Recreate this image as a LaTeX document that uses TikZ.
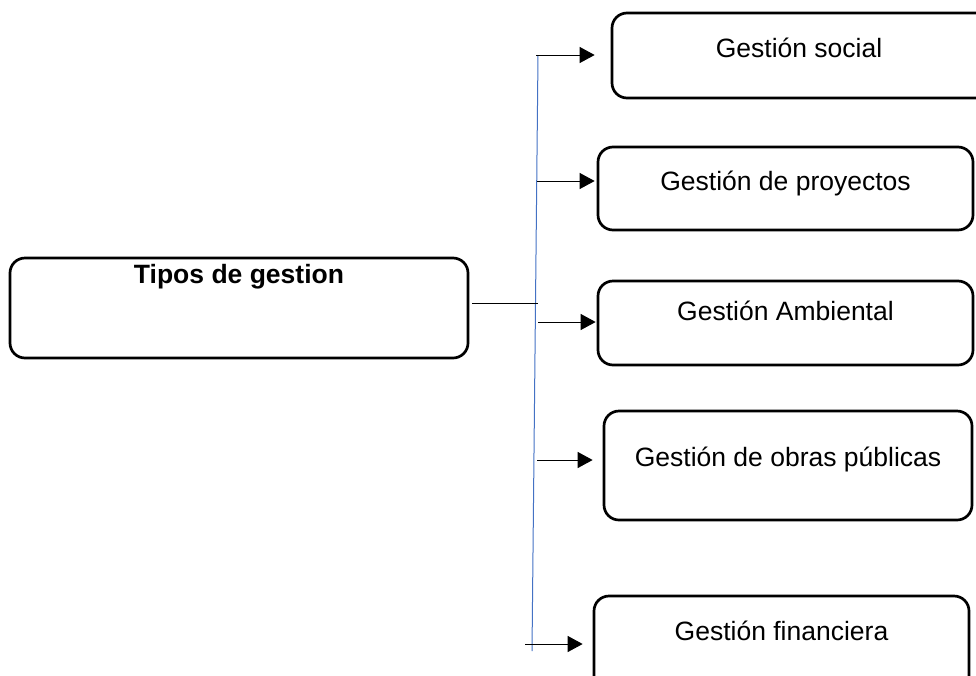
\documentclass[tikz,border=0pt]{standalone}
\usepackage{fontspec}
\setmainfont{Liberation Sans}
\usetikzlibrary{arrows.meta}
\definecolor{azul}{RGB}{68,114,196}

\begin{document}
\begin{tikzpicture}[x = 1pt, y = -1pt, line width = 2.7pt,
    caja/.style = {draw, rounded corners = 15pt, inner sep = 0pt, font = \fontsize{26.5}{30}\selectfont},
    flecha/.style = {line width = 1pt, -{Triangle[length = 15pt, width = 16pt]}},
    tronco/.style = {line width = 1pt, azul}]
\useasboundingbox (0,0) rectangle (976,675);
\draw (239,308) node[caja, minimum width = 458pt, text height = 25pt, text depth = 75pt, font = \fontsize{26.5}{30}\selectfont\bfseries](t0){Tipos de gestion}
    (806,55.5) node[caja, minimum width = 388pt, text height = 44pt, text depth = 41pt](g1){Gestión social\kern14pt\relax}
    (785.5,188.5) node[caja, minimum width = 375pt, text height = 43pt, text depth = 40pt](g2){Gestión de proyectos}
    (785.5,323) node[caja, minimum width = 375pt, text height = 39pt, text depth = 45pt](g3){Gestión Ambiental}
    (788,465.5) node[caja, minimum width = 368pt, text height = 55pt, text depth = 54pt](g4){Gestión de obras públicas}
    (781.5,648) node[caja, minimum width = 375pt, text height = 44pt, text depth = 60pt](g5){Gestión financiera};
\coordinate (c1) at (538,55);
\coordinate (c2) at (532,651);
\coordinate (m0) at (472,303);
\coordinate (s1) at (536,55);
\coordinate (s2) at (537,181);
\coordinate (s3) at (538,322);
\coordinate (s4) at (537,460);
\coordinate (s5) at (525,644);
    \draw [tronco] (c1) -- (c2);
    \draw [line width = 1pt] (m0) -- (m0 -| c1);
    \draw [flecha, shorten > = 16pt] (s1) -- (s1 -| g1.west);
    \draw [flecha, shorten > = 2pt] (s2) -- (s2 -| g2.west);
    \draw [flecha, shorten > = 1pt] (s3) -- (s3 -| g3.west);
    \draw [flecha, shorten > = 10pt] (s4) -- (s4 -| g4.west);
    \draw [flecha, shorten > = 10pt] (s5) -- (s5 -| g5.west);
\end{tikzpicture}
\end{document}
